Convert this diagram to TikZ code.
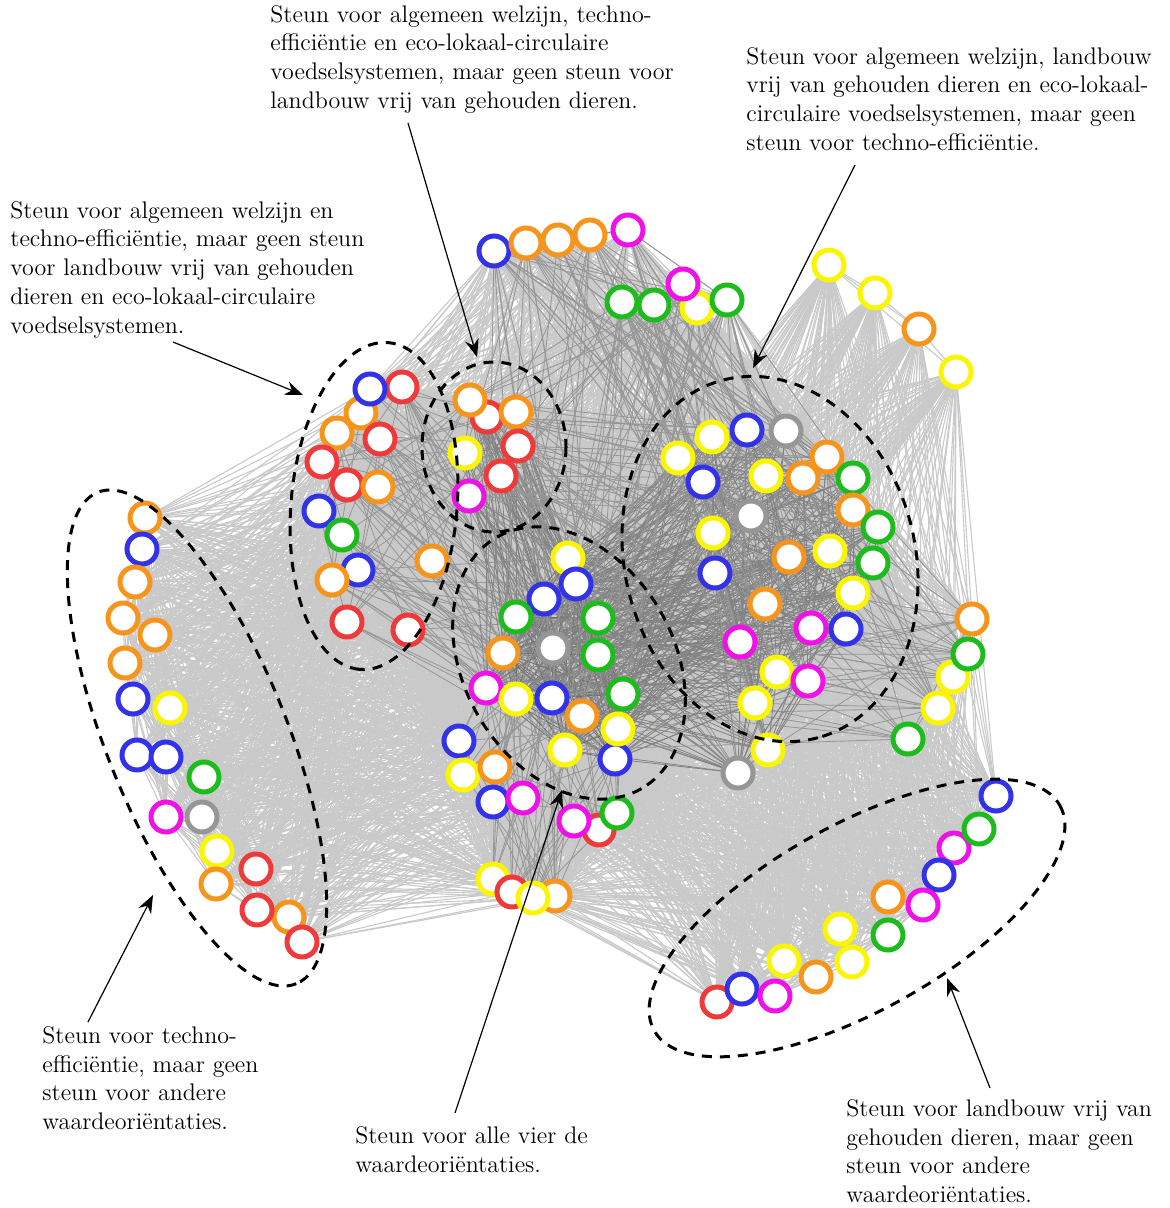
\documentclass[tikz,border=0pt]{standalone}
\usepackage{fontspec}
\usetikzlibrary{arrows.meta}
\pgfdeclarelayer{edgesA}
\pgfdeclarelayer{edgesB}
\pgfsetlayers{edgesA,edgesB,main}
\definecolor{cR}{RGB}{238,58,58}
\definecolor{cO}{RGB}{246,148,28}
\definecolor{cY}{RGB}{250,246,0}
\definecolor{cG}{RGB}{28,188,28}
\definecolor{cB}{RGB}{50,50,232}
\definecolor{cM}{RGB}{240,16,232}
\definecolor{cX}{RGB}{150,150,150}
\newcount\rs \rs=12345
\newcount\rt
\def\nextrand{\global\rt=\numexpr\rs*171\relax\global\rs=\numexpr\rt-((\rt-15134)/30269)*30269\relax}
\def\setbits#1#2#3#4#5{%
  \expandafter\xdef\csname W#1\endcsname{#2}%
  \expandafter\xdef\csname T#1\endcsname{#3}%
  \expandafter\xdef\csname A#1\endcsname{#4}%
  \expandafter\xdef\csname E#1\endcsname{#5}}
\def\getshare#1#2{\edef\sh{\the\numexpr \csname W#1\endcsname*\csname W#2\endcsname + \csname T#1\endcsname*\csname T#2\endcsname + \csname A#1\endcsname*\csname A#2\endcsname + \csname E#1\endcsname*\csname E#2\endcsname\relax}}
\tikzset{
  nd/.style={circle, draw=#1, fill=white, line width=2.5pt, minimum size=15pt, inner sep=0pt},
  lnk/.style={draw=black!21, line width=0.55pt},
  lnkd/.style={draw=black!#1, line width=0.4pt},
  ell/.style={draw=black, line width=1.5pt, dash pattern=on 5pt off 4pt},
  arr/.style={-{Stealth[length=9pt,width=7pt,inset=3pt]}, line width=0.6pt},
  lbl/.style={anchor=north west, inner sep=0pt, align=left, font=\fontsize{12}{14.35}\selectfont}
}
\begin{document}
\begin{tikzpicture}[x=0.5pt,y=-0.5pt]
\useasboundingbox (0,0) rectangle (1170,1208);
% nodes
\foreach \i/\x/\y/\c/\m in {
 1/145/518/cO/0100, 2/142/549/cB/0100, 3/135/582/cO/0100, 4/123/618/cO/0100, 5/155/635/cO/0100,
 6/125/663/cO/0100, 7/133/699/cB/0100, 8/170/708/cY/0100, 9/137/755/cB/0100, 10/166/757/cB/0100,
 11/204/777/cG/0100, 12/166/817/cM/0100, 13/202/817/cX/0100, 14/217/851/cY/0100, 15/256/869/cR/0100,
 16/216/884/cO/0100, 17/289/917/cO/0100, 18/257/910/cR/0100, 19/302/942/cR/0100,
 20/402/387/cR/1100, 21/361/413/cO/1100, 22/370/389/cB/1100, 23/337/433/cO/1100, 24/380/439/cR/1100,
 25/322/462/cR/1100, 26/347/485/cR/1100, 27/378/487/cO/1100, 28/319/511/cB/1100, 29/342/535/cG/1100,
 30/358/570/cB/1100, 31/332/580/cO/1100, 32/347/622/cR/1100, 33/408/630/cR/1100, 34/432/561/cO/1100,
 35/487/417/cR/1101, 36/470/400/cO/1101, 37/516/412/cO/1101, 38/518/446/cR/1101, 39/465/453/cY/1101,
 40/501/476/cR/1101, 41/469/496/cM/1101,
 42/568/558/cY/1111, 43/576/584/cB/1111, 44/544/599/cB/1111, 45/516/617/cG/1111, 46/598/618/cG/1111,
 47/553/648/cX/1111, 48/503/653/cO/1111, 49/598/655/cG/1111, 50/486/688/cM/1111, 51/516/699/cY/1111,
 52/552/698/cB/1111, 53/623/694/cG/1111, 54/582/716/cO/1111, 55/615/759/cB/1111, 56/565/750/cY/1111,
 57/618/729/cY/1111,
 58/459/741/cB/0110, 59/463/775/cY/0110, 60/495/767/cO/0110, 61/493/802/cB/0110, 62/523/798/cM/0110,
 63/599/830/cR/0110, 64/574/821/cM/0110, 65/617/813/cG/0110,
 66/493/879/cY/0110, 67/512/892/cR/0110, 68/555/896/cO/0110, 69/533/898/cY/0110,
 70/712/437/cY/1011, 71/678/458/cY/1011, 72/703/482/cB/1011, 73/747/430/cB/1011, 74/786/431/cX/1011,
 75/766/476/cY/1011, 76/803/478/cO/1011, 77/827/457/cO/1011, 78/853/478/cG/1011, 79/751/516/cX/1011,
 80/713/533/cY/1011, 81/853/510/cO/1011, 82/878/527/cG/1011, 83/715/573/cB/1011, 84/789/557/cO/1011,
 85/830/551/cY/1011, 86/853/593/cY/1011, 87/873/563/cG/1011, 88/765/604/cO/1011, 89/846/629/cB/1011,
 90/811/628/cM/1011, 91/740/642/cM/1011, 92/777/672/cY/1011, 93/808/681/cM/1011, 94/755/703/cY/1011,
 95/768/750/cY/1011, 96/738/773/cX/1011,
 97/972/619/cO/0011, 98/953/677/cY/0011, 99/968/654/cG/0011, 100/938/708/cY/0011, 101/908/739/cG/0011,
 102/996/796/cB/0010, 103/954/848/cM/0010, 104/979/829/cG/0010, 105/939/875/cB/0010, 106/923/905/cM/0010,
 107/888/897/cO/0010, 108/888/935/cG/0010, 109/840/929/cY/0010, 110/852/962/cY/0010, 111/784/961/cY/0010,
 112/816/977/cO/0010, 113/717/1002/cR/0010, 114/742/989/cB/0010, 115/775/996/cM/0010,
 116/494/251/cB/1001, 117/526/243/cO/1001, 118/558/240/cO/1001, 119/590/235/cO/1001, 120/628/230/cM/1001,
 121/697/308/cY/1001, 122/622/302/cG/1001, 123/654/305/cG/1001, 124/683/284/cM/1001, 125/727/300/cG/1001,
 126/829/265/cY/0010, 127/875/293/cY/0010, 128/919/329/cO/0010, 129/956/372/cY/0010}{
  \node[nd=\c] (n\i) at (\x,\y) {};
  \edef\tmp{\noexpand\setbits{\i}\m}\tmp
}
% light network
\begin{pgfonlayer}{edgesA}
\foreach \i in {1,...,128}{
  \pgfmathtruncatemacro{\js}{\i+1}
  \foreach \j in {\js,...,129}{
    \nextrand
    \getshare{\i}{\j}
    \ifnum\sh>0
      \ifnum\rs<\numexpr 22000+3000*\sh\relax
        \draw[lnk] (n\i.center) -- (n\j.center);
      \fi
    \fi
  }
}
\end{pgfonlayer}
% darker strong ties
\begin{pgfonlayer}{edgesB}
\foreach \i in {1,...,128}{
  \pgfmathtruncatemacro{\js}{\i+1}
  \foreach \j in {\js,...,129}{
    \nextrand
    \getshare{\i}{\j}
    \ifnum\sh>1
      \ifnum\rs<\numexpr 7000*\sh-6000\relax
        \draw[lnkd=\the\numexpr 25+8*\sh\relax] (n\i.center) -- (n\j.center);
      \fi
    \fi
  }
}
\end{pgfonlayer}
% dashed groupings
\draw[ell, rotate around={-68:(197,738)}] (197,738) ellipse [x radius=265, y radius=90];
\draw[ell, rotate around={-95:(374,506)}] (374,506) ellipse [x radius=164, y radius=83];
\draw[ell] (494,447) ellipse [x radius=72, y radius=85];
\draw[ell, rotate around={-60:(569,663)}] (569,663) ellipse [x radius=145, y radius=105];
\draw[ell, rotate around={-75:(770,559)}] (770,559) ellipse [x radius=185, y radius=145];
\draw[ell, rotate around={29:(857,918)}] (857,918) ellipse [x radius=232, y radius=93];
% labels
\node[lbl] (t1) at (270,5) {Steun voor algemeen welzijn, techno-\\efficiëntie en eco-lokaal-circulaire\\voedselsystemen, maar geen steun voor\\landbouw vrij van gehouden dieren.};
\node[lbl] (t2) at (746,47) {Steun voor algemeen welzijn, landbouw\\vrij van gehouden dieren en eco-lokaal-\\circulaire voedselsystemen, maar geen\\steun voor techno-efficiëntie.};
\node[lbl] (t3) at (10,201) {Steun voor algemeen welzijn en\\techno-efficiëntie, maar geen steun\\voor landbouw vrij van gehouden\\dieren en eco-lokaal-circulaire\\voedselsystemen.};
\node[lbl] (t4) at (42,1026) {Steun voor techno-\\efficiëntie, maar geen\\steun voor andere\\waardeoriëntaties.};
\node[lbl] (t5) at (355,1126) {Steun voor alle vier de\\waardeoriëntaties.};
\node[lbl] (t6) at (846,1099) {Steun voor landbouw vrij van\\gehouden dieren, maar geen\\steun voor andere\\waardeoriëntaties.};
% arrows
\coordinate (s1) at (173,342); \coordinate (e1) at (303,395);
\coordinate (s2) at (408,123); \coordinate (e2) at (477,357);
\coordinate (s3) at (855,165); \coordinate (e3) at (753,368);
\coordinate (s4) at (88,1022); \coordinate (e4) at (153,895);
\coordinate (s5) at (455,1113); \coordinate (e5) at (562,790);
\coordinate (s6) at (990,1088); \coordinate (e6) at (947,978);
\foreach \k in {1,...,6}{\draw[arr] (s\k) -- (e\k);}
\end{tikzpicture}
\end{document}
